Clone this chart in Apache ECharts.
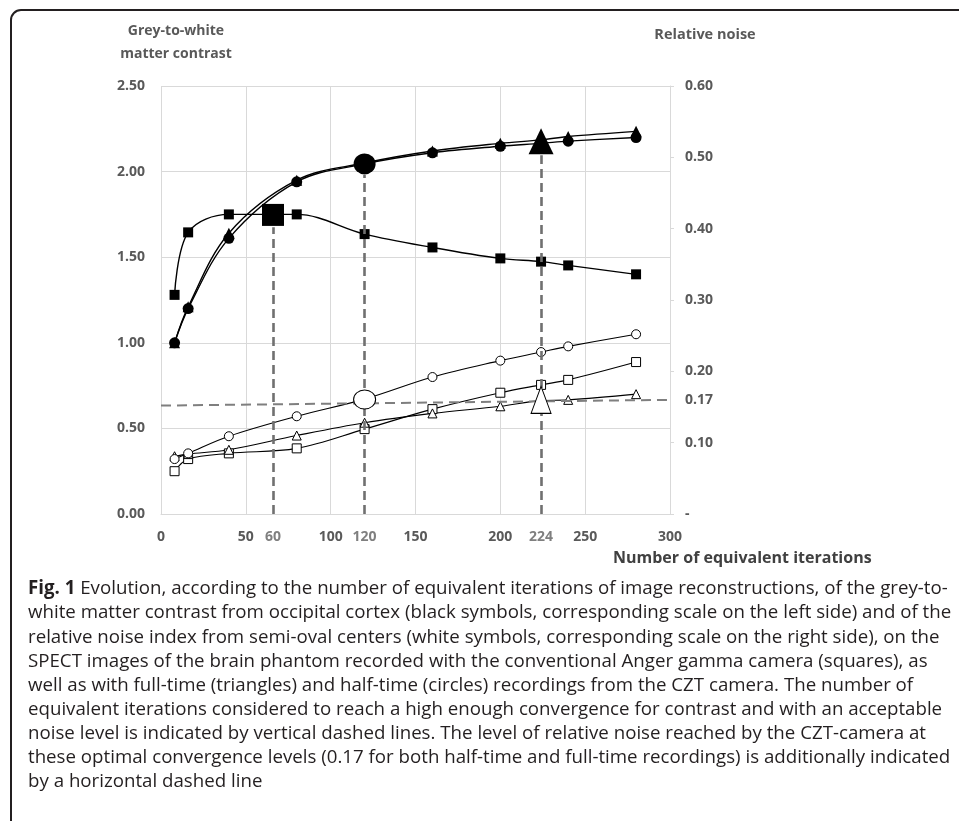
<!DOCTYPE html>
<html>
<head>
<meta charset="utf-8">
<script src="https://cdn.jsdelivr.net/npm/echarts@6/dist/echarts.min.js"></script>
<style>
html,body{margin:0;padding:0;background:#fff;}
#chart{width:959px;height:821px;}
</style>
</head>
<body>
<div id="chart"></div>
<script>
// ---- data ----
const iterations = [8, 16, 40, 80, 120, 160, 200, 224, 240, 280];
const contrastAnger = [1.28, 1.645, 1.75, 1.75, 1.635, 1.557, 1.493, 1.474, 1.452, 1.40];
const contrastFull = [1.00, 1.21, 1.64, 1.95, 2.05, 2.12, 2.165, 2.185, 2.205, 2.235];
const contrastHalf = [1.00, 1.20, 1.61, 1.94, 2.045, 2.11, 2.148, 2.165, 2.178, 2.199];
const noiseAnger = [0.060, 0.077, 0.085, 0.092, 0.119, 0.147, 0.170, 0.181, 0.188, 0.213];
const noiseFull = [0.081, 0.084, 0.090, 0.110, 0.128, 0.141, 0.151, 0.159, 0.160, 0.168];
const noiseHalf = [0.077, 0.085, 0.109, 0.137, 0.161, 0.192, 0.215, 0.227, 0.235, 0.252];

// optimal convergence points (vertical dashed lines)
const optimalX = [66, 120, 224];
const optimalLabels = ['60', '120', '224'];
const optimalContrast = [1.747, 2.045, 2.177];
const optimalContrastSymbols = ['rect', 'circle', 'triangle'];
const arrowTop = [1.675, 1.98, 2.096];
// noise reached at optimal convergence (white symbols)
const optimalNoiseX = [120, 224];
const optimalNoise = [0.1605, 0.16];
const optimalNoiseSymbols = ['circle', 'triangle'];
const noiseLevelLabel = '0.17';
const noiseLineStart = [0, 0.152];
const noiseLineEnd = [300, 0.160];

const xTicks = [0, 300, 50];
const leftTicks = [0, 2.5, 0.5];
const rightTicks = [0, 0.6, 0.1];

const captionLines = [
  'Evolution, according to the number of equivalent iterations of image reconstructions, of the grey-to-',
  'white matter contrast from occipital cortex (black symbols, corresponding scale on the left side) and of the',
  'relative noise index from semi-oval centers (white symbols, corresponding scale on the right side), on the',
  'SPECT images of the brain phantom recorded with the conventional Anger gamma camera (squares), as',
  'well as with full-time (triangles) and half-time (circles) recordings from the CZT camera. The number of',
  'equivalent iterations considered to reach a high enough convergence for contrast and with an acceptable',
  'noise level is indicated by vertical dashed lines. The level of relative noise reached by the CZT-camera at',
  'these optimal convergence levels (0.17 for both half-time and full-time recordings) is additionally indicated',
  'by a horizontal dashed line'
];

// ---- chart ----
const zip = (xs, ys) => xs.map((x, i) => [x, ys[i]]);
const FONT = '"Open Sans", "DejaVu Sans", sans-serif';
const LABEL = {fontFamily: FONT, fontWeight: 'bold', fontSize: 14, color: '#595959'};
const GRID = '#d9d9d9';

const blackLine = (name, ys, symbol, size) => ({
  name, type: 'line', yAxisIndex: 0, data: zip(iterations, ys),
  smooth: 0.35, symbol, symbolSize: size,
  itemStyle: {color: '#000'}, lineStyle: {color: '#000', width: 1.4}, z: 3
});
const whiteLine = (name, ys, symbol, size) => ({
  name, type: 'line', yAxisIndex: 1, data: zip(iterations, ys),
  smooth: 0.35, symbol, symbolSize: size,
  itemStyle: {color: '#fff', borderColor: '#000', borderWidth: 1},
  lineStyle: {color: '#000', width: 1.1}, z: 3
});

const chart = echarts.init(document.getElementById('chart'), null, {renderer: 'canvas'});

const CAP_SIZE = 18.7;
const CAP_FONT = CAP_SIZE + 'px ' + FONT;
const captionGraphics = captionLines.map((t, i) => ({
  type: 'text', x: 28, y: 589 + i * 24.1,
  style: i === 0 ? {
    text: '{b|Fig. 1} ' + t,
    rich: {b: {fontFamily: FONT, fontWeight: 'bold', fontSize: CAP_SIZE, fill: '#231f20'}},
    font: CAP_FONT, fill: '#231f20', textVerticalAlign: 'middle'
  } : {text: t, font: CAP_FONT, fill: '#231f20', textVerticalAlign: 'middle'}
}));

chart.setOption({
  animation: false,
  backgroundColor: '#fff',
  grid: {left: 161, right: 289, top: 86, bottom: 307},
  xAxis: {
    type: 'value', min: xTicks[0], max: xTicks[1], interval: xTicks[2],
    axisLine: {lineStyle: {color: GRID}}, axisTick: {show: false},
    axisLabel: Object.assign({margin: 16}, LABEL),
    splitLine: {lineStyle: {color: GRID, width: 1}}
  },
  yAxis: [{
    type: 'value', min: leftTicks[0], max: leftTicks[1], interval: leftTicks[2],
    axisLine: {show: false}, axisTick: {show: false},
    axisLabel: Object.assign({margin: 16, formatter: v => v.toFixed(2)}, LABEL),
    splitLine: {lineStyle: {color: GRID, width: 1}}
  }, {
    type: 'value', position: 'right', min: rightTicks[0], max: rightTicks[1], interval: rightTicks[2],
    axisLine: {show: true, lineStyle: {color: GRID}},
    axisTick: {show: true, length: 4, lineStyle: {color: GRID}},
    axisLabel: Object.assign({margin: 15, formatter: v => v === 0 ? '-' : v.toFixed(2)}, LABEL),
    splitLine: {show: false}
  }],
  graphic: [
    {type: 'rect', shape: {x: 11, y: 10, width: 1000, height: 900, r: [10, 0, 0, 0]},
     style: {fill: 'none', stroke: '#231f20', lineWidth: 2}, z: 100},
    {type: 'text', x: 176, y: 31, style: {text: 'Grey-to-white', font: 'bold 14px ' + FONT, fill: '#595959', textAlign: 'center', textVerticalAlign: 'middle'}},
    {type: 'text', x: 176, y: 54, style: {text: 'matter contrast', font: 'bold 14px ' + FONT, fill: '#595959', textAlign: 'center', textVerticalAlign: 'middle'}},
    {type: 'text', x: 705, y: 35, style: {text: 'Relative noise', font: 'bold 14.5px ' + FONT, fill: '#595959', textAlign: 'center', textVerticalAlign: 'middle'}},
    {type: 'text', x: 613, y: 558, style: {text: 'Number of equivalent iterations', font: 'bold 16px ' + FONT, fill: '#404040', textAlign: 'left', textVerticalAlign: 'middle'}}
  ].concat(captionGraphics),
  series: [
    blackLine('Contrast Anger', contrastAnger, 'rect', 10),
    blackLine('Contrast CZT full-time', contrastFull, 'triangle', 11),
    blackLine('Contrast CZT half-time', contrastHalf, 'circle', 11),
    whiteLine('Noise Anger', noiseAnger, 'rect', 9),
    whiteLine('Noise CZT full-time', noiseFull, 'triangle', 9),
    whiteLine('Noise CZT half-time', noiseHalf, 'circle', 9),
    {
      name: 'Optimal contrast', type: 'scatter', yAxisIndex: 0, z: 10, clip: false,
      data: optimalX.map((x, i) => ({
        value: [x, optimalContrast[i]], symbol: optimalContrastSymbols[i],
        symbolSize: optimalContrastSymbols[i] === 'triangle' ? [25, 26] : (optimalContrastSymbols[i] === 'circle' ? [22, 21] : 22)
      })),
      itemStyle: {color: '#000', opacity: 1},
      markLine: {
        silent: true, z: 4,
        symbol: ['none', 'arrow'], symbolSize: [0, 8],
        lineStyle: {color: '#707070', width: 2.6, type: [9, 5], opacity: 1},
        label: {show: true, position: 'start', distance: 16, formatter: '{b}',
                fontFamily: FONT, fontWeight: 'bold', fontSize: 14, color: '#7f7f7f'},
        data: optimalX.map((x, i) => [
          {name: optimalLabels[i], coord: [x, 0]},
          {coord: [x, arrowTop[i]]}
        ])
      }
    },
    {
      name: 'Optimal noise', type: 'scatter', yAxisIndex: 1, z: 10, clip: false,
      data: optimalNoiseX.map((x, i) => ({
        value: [x, optimalNoise[i]], symbol: optimalNoiseSymbols[i],
        symbolSize: optimalNoiseSymbols[i] === 'triangle' ? [20, 27] : [22, 19]
      })),
      itemStyle: {color: '#fff', borderColor: '#000', borderWidth: 1, opacity: 1},
      markLine: {
        silent: true, z: 4, symbol: ['none', 'none'],
        lineStyle: {color: '#7f7f7f', width: 2, type: [10, 6], opacity: 1},
        label: {show: true, position: 'end', distance: 15, formatter: noiseLevelLabel,
                fontFamily: FONT, fontWeight: 'bold', fontSize: 14, color: '#595959'},
        data: [[{coord: noiseLineStart}, {coord: noiseLineEnd}]]
      }
    }
  ]
});
</script>
</body>
</html>
